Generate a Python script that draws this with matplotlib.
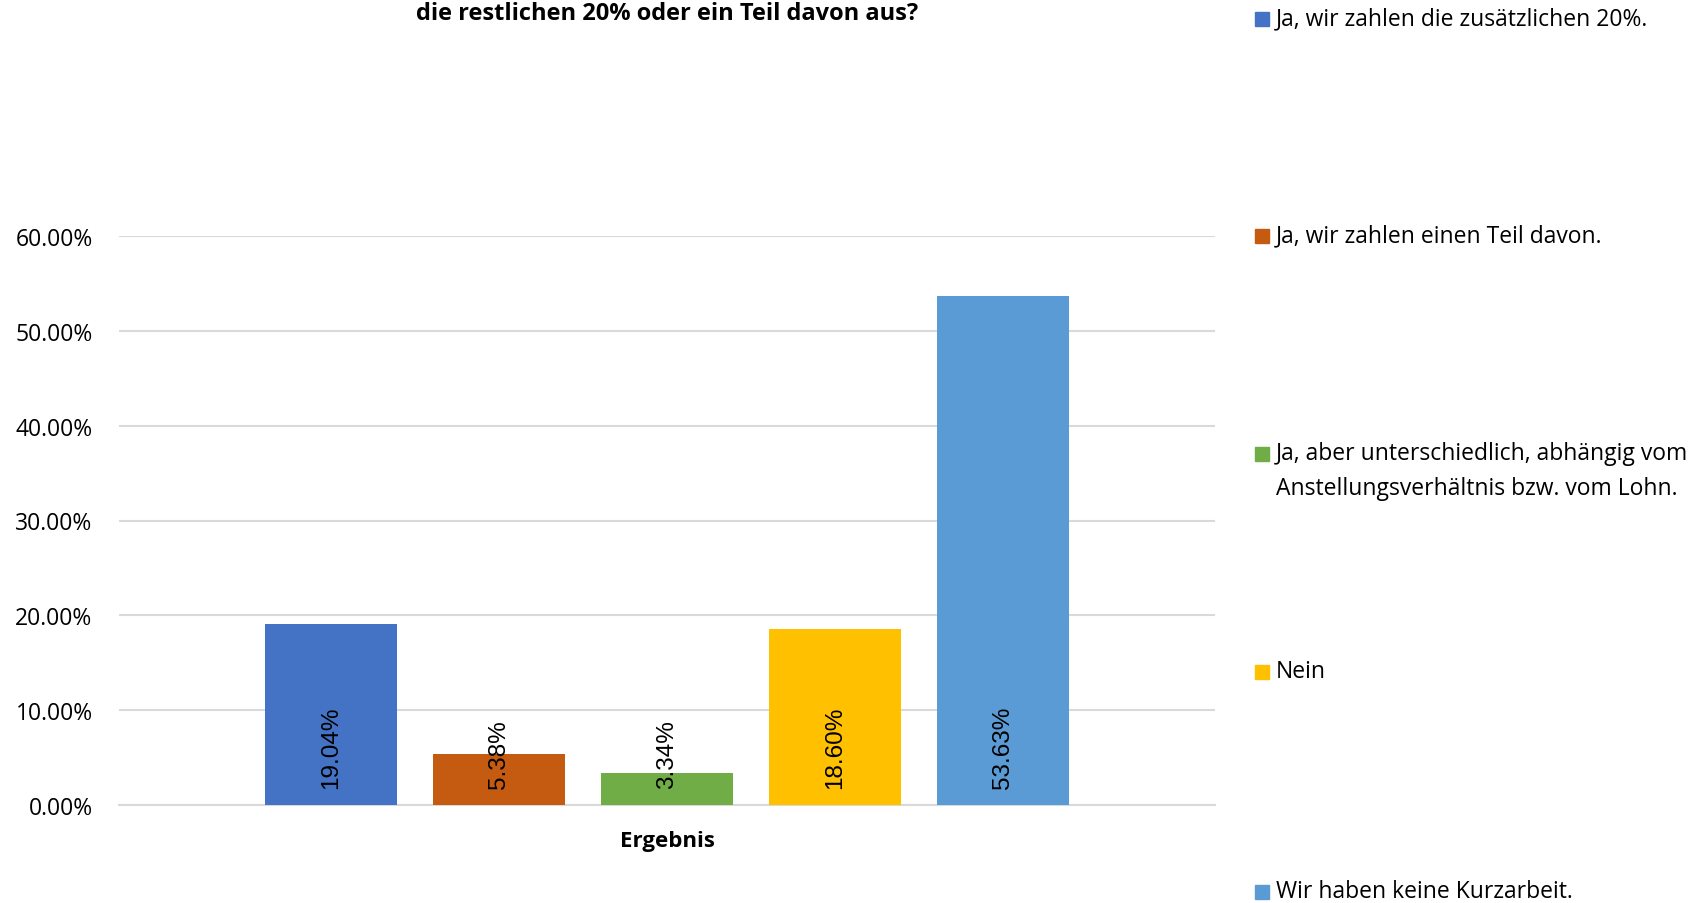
import numpy as np
import matplotlib.pyplot as plt
from matplotlib.patches import Rectangle

###############################################################################
# DATA
###############################################################################

series = [
    "Ja, wir zahlen die zusätzlichen 20%.",
    "Ja, wir zahlen einen Teil davon.",
    "Ja, aber unterschiedlich, abhängig vom\nAnstellungsverhältnis bzw. vom Lohn.",
    "Nein",
    "Wir haben keine Kurzarbeit.",
]
values = [19.04, 5.38, 3.34, 18.60, 53.63]
colors = ["#4472C4", "#C55A11", "#70AD47", "#FFC000", "#5B9BD5"]
category = "Ergebnis"
title = "die restlichen 20% oder ein Teil davon aus?"

yticks = [0, 10, 20, 30, 40, 50, 60]

###############################################################################
# PLOT
###############################################################################

W, H = 1700, 904
fig = plt.figure(figsize=(W / 100, H / 100), dpi=100)
plt.rcParams['font.family'] = ['Open Sans', 'DejaVu Sans']

# axes box in pixels (left, top, right, bottom)
L, T, R, B = 119, 237, 1215, 806
ax = fig.add_axes([L / W, 1 - B / H, (R - L) / W, (B - T) / H])

width = 0.1207
step = 0.1533
x = (np.arange(len(values)) - 2) * step

ax.bar(x, values, width=width, color=colors, zorder=3)

for xi, v in zip(x, values):
    ax.annotate("%.2f%%" % v, (xi, 0), xytext=(0, 12), textcoords="offset points",
                rotation=90, ha="center", va="bottom", fontsize=17.5,
                family="Liberation Sans", color="#000000", zorder=4)

ax.set_xlim(-0.5, 0.5)
ax.set_ylim(0, 60)
ax.set_yticks(yticks)
ax.set_yticklabels(["%.2f%%" % t for t in yticks], fontsize=16.5)
ax.set_xticks([0])
ax.set_xticklabels([category], fontsize=16, fontweight="bold")
ax.tick_params(axis="both", length=0)
ax.tick_params(axis="y", pad=19)
ax.tick_params(axis="x", pad=18)
ax.grid(axis="y", color="#D9D9D9", linewidth=1.5, zorder=0)
for s in ["top", "right", "left"]:
    ax.spines[s].set_visible(False)
ax.spines["bottom"].set_color("#D9D9D9")
ax.spines["bottom"].set_linewidth(1.5)

# title (source is cut at the top edge; keep it just inside)
fig.text(667 / W, 1 - 2 / H, title, ha="center", va="top", fontsize=17,
         fontweight="bold")

# legend on the right
leg_y = [20, 237, 455, 673, 893]
for lab, c, yy in zip(series, colors, leg_y):
    fig.patches.append(Rectangle(((1255) / W, 1 - (yy + 7) / H), 14 / W, 14 / H,
                                 transform=fig.transFigure, color=c))
    fig.text(1276 / W, 1 - (yy - 13) / H, lab, ha="left", va="top", fontsize=16.5,
             linespacing=1.6)

plt.savefig("out.png", dpi=100)
